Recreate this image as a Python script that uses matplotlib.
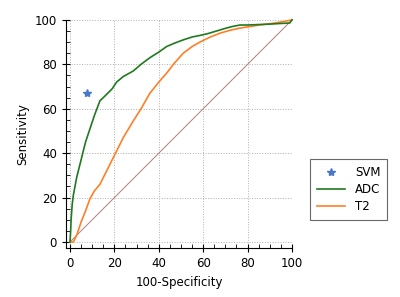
# ROC curves: ADC, T2 and the SVM operating point
import matplotlib
matplotlib.use('Agg')
import matplotlib.pyplot as plt
from matplotlib.ticker import MultipleLocator

# ADC curve (100-specificity, sensitivity)
adc_x = [0, 0.3, 0.5, 1, 1.5, 3, 4.5, 6, 7, 9, 11, 13.5, 15, 17, 19, 21, 24,
         28.5, 32, 36, 40, 43.5, 47, 51, 55, 58.5, 62, 66, 70, 73, 76.6, 80,
         85, 90, 95, 99, 100]
adc_y = [0, 5, 10, 17, 21, 29, 35, 41, 45, 51, 57, 63.6, 65, 67, 69, 72, 74.5,
         77, 80, 83, 85.5, 88, 89.5, 91, 92.3, 93, 93.8, 95, 96.2, 97, 97.7, 97.7,
         97.9, 98.1, 98.4, 98.6, 100]

# T2 curve
t2_x = [0, 1.5, 3, 5, 7, 9, 11, 13.5, 16, 18.5, 21, 24, 28.5, 32, 36, 40,
        43.5, 47, 51, 55, 58.5, 63, 67.5, 72, 76, 81, 86, 91.5, 96, 100]
t2_y = [0, 0, 3, 9, 14, 19.5, 23, 26, 31, 36, 41, 47, 54.5, 60, 67, 72,
        76, 80.5, 85, 88, 90, 92.2, 94, 95.3, 96.2, 97, 97.8, 98.5, 99.2, 100]

# SVM point
svm_x = [7.5]
svm_y = [67]

fig = plt.figure(figsize=(4, 2.97), dpi=100)
ax = fig.add_axes([0.165, 0.165, 0.565, 0.768])

ax.plot([0, 100], [0, 100], color='#b77b7b', lw=0.7, zorder=1)
adc_line, = ax.plot(adc_x, adc_y, color='#1f7a1f', lw=1.2, label='ADC', zorder=3)
t2_line, = ax.plot(t2_x, t2_y, color='#ff7f27', lw=1.2, label='T2', zorder=2)
svm_pt, = ax.plot(svm_x, svm_y, ls='none', marker='*', ms=6, color='#4a78c8',
                  label='SVM', zorder=4)

ax.set_xlim(-1.8, 100)
ax.set_ylim(-2.7, 100)
for ln in ax.lines:
    ln.set_clip_on(False)

ax.xaxis.set_major_locator(MultipleLocator(20))
ax.yaxis.set_major_locator(MultipleLocator(20))
ax.xaxis.set_minor_locator(MultipleLocator(5))
ax.yaxis.set_minor_locator(MultipleLocator(5))
ax.tick_params(which='major', direction='inout', length=6, width=0.8, labelsize=8.5)
ax.tick_params(which='minor', direction='in', length=3, width=0.6)

ax.spines['top'].set_visible(False)
ax.spines['right'].set_visible(False)
ax.spines['left'].set_bounds(-2.7, 100)
ax.spines['bottom'].set_bounds(-1.8, 100)

ax.grid(True, which='major', ls=':', color='#b0b0b0', lw=0.7)
ax.set_axisbelow(True)

ax.set_xlabel('100-Specificity', fontsize=8.5)
ax.set_ylabel('Sensitivity', fontsize=8.5)

leg = fig.legend(handles=[svm_pt, adc_line, t2_line], loc='upper left',
                 bbox_to_anchor=(0.775, 0.465), fontsize=8.5, frameon=True,
                 fancybox=False, edgecolor='#444444', handlelength=2.4,
                 borderpad=0.6, labelspacing=0.35, borderaxespad=0)
leg.get_frame().set_linewidth(0.8)

fig.savefig('out.png', dpi=100)
